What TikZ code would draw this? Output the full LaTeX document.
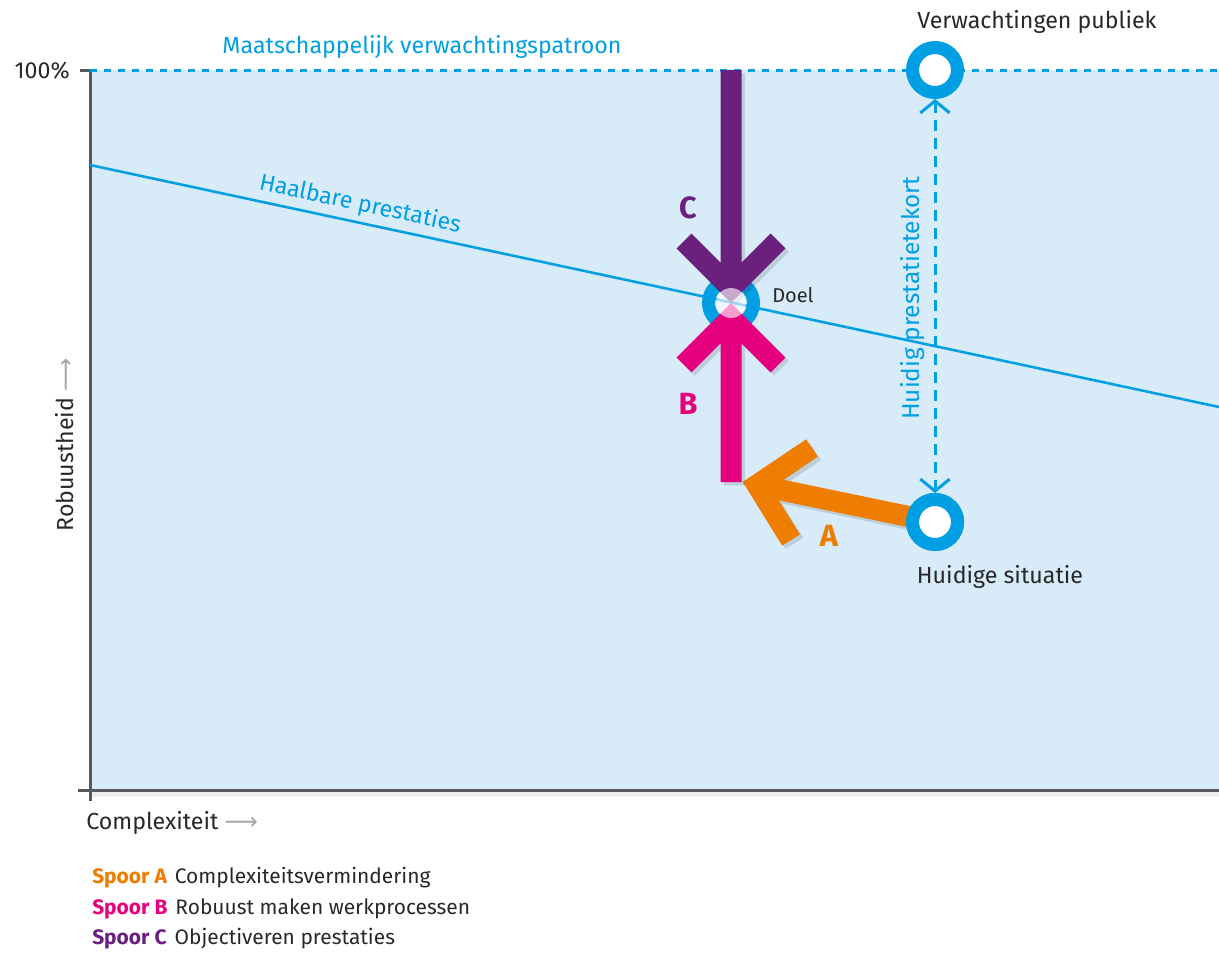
\documentclass[tikz,border=0pt]{standalone}
\usepackage{fontspec}
\setmainfont{Fira Sans}
\newfontfamily\dejavu{DejaVu Sans}
\usetikzlibrary{arrows.meta}
\definecolor{bgblue}{RGB}{215,235,249}
\definecolor{cyanc}{RGB}{0,159,227}
\definecolor{purplec}{RGB}{107,32,126}
\definecolor{pinkc}{RGB}{229,0,125}
\definecolor{orangec}{RGB}{239,125,0}
\definecolor{axisgray}{RGB}{88,89,91}
\definecolor{txt}{RGB}{40,40,40}
\definecolor{arrgray}{RGB}{165,165,165}
\tikzset{
  ring/.style={circle,draw=cyanc,line width=9.75pt,minimum size=33.75pt,inner sep=0pt},
  bigarrow/.style={line width=15.75pt,line join=miter,
     preaction={draw=black,draw opacity=0.12,line width=15.75pt,transform canvas={shift={(2.5pt,-2.5pt)}}}},
  lbl/.style={text=txt,font=\fontsize{17.4}{20}\selectfont,inner sep=0pt},
  trackl/.style={font=\bfseries\fontsize{23}{25}\selectfont,inner sep=0pt},
  legend/.style={text=txt,font=\fontsize{15.7}{18}\selectfont,inner sep=0pt,anchor=base west},
  cyandash/.style={cyanc,line width=2.25pt,dash pattern=on 5.25pt off 5.25pt}
}
\begin{document}
\begin{tikzpicture}[x=0.75pt,y=-0.75pt]
\useasboundingbox (0,0) rectangle (1219,954);
\fill[bgblue] (90,70) rectangle (1219,790);
% axis shadow
\fill[black,opacity=0.07] (92,791) rectangle (1219,797);
% axes
\draw[axisgray,line width=2.25pt] (80,70) -- (90,70) -- (90,801);
\draw[axisgray,line width=2.25pt] (78,790) -- (1219,790);
\node[lbl,anchor=east] (pct) at (70,71) {100\%};
% top dashed line
\draw[cyandash] (90,70) -- (1219,70);
\node[lbl,text=cyanc] (maat) at (422,47) {Maatschappelijk verwachtingspatroon};
% haalbare prestaties
\draw[cyanc,line width=1.9pt] (90,165) -- node[pos=0.236,sloped,above=4pt,lbl,text=cyanc] (haal) {Haalbare prestaties} (1219,407);
% Doel ring (below arrows)
\node[ring] (doel) at (731,303) {};
\node[text=txt,font=\fontsize{15}{17}\selectfont,anchor=west,inner sep=0pt] (doellbl) at (772,295) {Doel};
% coordinates
\coordinate (cTop) at (731,70);
\coordinate (cApex) at (731,288);
\coordinate (bBase) at (731,482);
\coordinate (bApex) at (731,318);
\coordinate (aApex) at (757,485);
% arrow A (drawn before Huidige circle)
\node[ring,fill=white] (hs0) at (935,522) {};
\draw[bigarrow,orangec] (hs0.center) -- (aApex) (812,448) -- (aApex) -- (791,540);
% arrow B
\draw[bigarrow,pinkc] (bBase) -- (bApex) (684,365) -- (bApex) -- (778,365);
% arrow C
\draw[bigarrow,purplec] (cTop) -- (cApex) (684,241) -- (cApex) -- (778,241);
% inner of Doel
\fill[white,opacity=0.62] (doel.center) circle[radius=11.25pt];
% circles
\node[ring,fill=white] (hs) at (935,522) {};
\node[ring,fill=white] (vp) at (935,70) {};
\node[lbl] (vplbl) at (1037,22) {Verwachtingen publiek};
\node[lbl] (hslbl) at (1000,577) {Huidige situatie};
% dashed double arrow
\draw[cyanc,line width=2.25pt,dash pattern=on 8.25pt off 5.25pt,
  {Straight Barb[length=9pt,width=22pt,line width=2.25pt]}-{Straight Barb[length=9pt,width=22pt,line width=2.25pt]}]
  (vp.south) -- (hs.north);
\node[text=cyanc,font=\fontsize{18.3}{21}\selectfont,inner sep=0pt,rotate=90] (tekort) at (913,298) {Huidig prestatietekort};
% track labels
\node[trackl,text=purplec] (lc) at (688,208) {C};
\node[trackl,text=pinkc] (lb) at (688,404) {B};
\node[trackl,text=orangec] (la) at (829,536) {A};
% axis labels
\node[lbl,rotate=90] (rob) at (65,445) {Robuustheid {\dejavu\color{arrgray}⟶}};
\node[lbl,anchor=west] (comp) at (86,823) {Complexiteit {\dejavu\color{arrgray}⟶}};
% legend
\node[legend] (lega) at (92,883) {\textcolor{orangec}{\bfseries Spoor A}\hspace{6pt}Complexiteitsvermindering};
\node[legend] (legb) at (92,914) {\textcolor{pinkc}{\bfseries Spoor B}\hspace{6pt}Robuust maken werkprocessen};
\node[legend] (legc) at (92,944) {\textcolor{purplec}{\bfseries Spoor C}\hspace{6pt}Objectiveren prestaties};
\end{tikzpicture}
\end{document}
